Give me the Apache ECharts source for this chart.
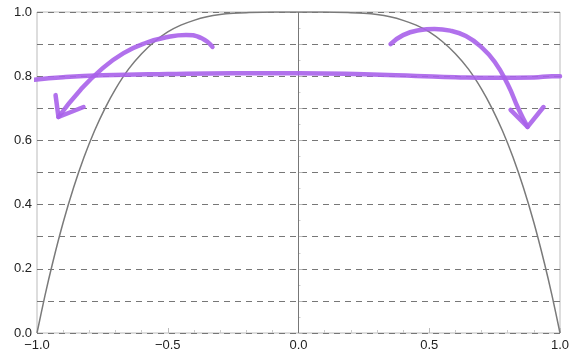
<!DOCTYPE html>
<html>
<head>
<meta charset="utf-8">
<script src="https://cdn.jsdelivr.net/npm/echarts@6/dist/echarts.min.js"></script>
<style>
  html, body { margin: 0; padding: 0; background: #fff; }
  #chart { width: 573px; height: 356px; }
</style>
</head>
<body>
<div id="chart"></div>
<script>
// gray curve
const curveX = [-1, -0.97, -0.94, -0.9, -0.86, -0.82, -0.78, -0.74, -0.7, -0.65, -0.6, -0.55, -0.5, -0.45, -0.4, -0.35, -0.3, -0.25, -0.2, -0.1, 0,
  0.1, 0.2, 0.25, 0.3, 0.35, 0.4, 0.45, 0.5, 0.55, 0.6, 0.65, 0.7, 0.74, 0.78, 0.82, 0.86, 0.9, 0.94, 0.97, 1];
const curveY = [0, 0.115, 0.219, 0.344, 0.453, 0.548, 0.630, 0.700, 0.760, 0.822, 0.870, 0.908, 0.938, 0.959, 0.974, 0.985, 0.992, 0.996, 0.998, 1, 1,
  1, 0.998, 0.996, 0.992, 0.985, 0.974, 0.959, 0.938, 0.908, 0.870, 0.822, 0.760, 0.700, 0.630, 0.548, 0.453, 0.344, 0.219, 0.115, 0];

// purple pen marks
const penLineX = [-1.01, -0.9, -0.75, -0.5, -0.25, 0, 0.25, 0.45, 0.6, 0.75, 0.9, 0.97, 1];
const penLineY = [0.789, 0.797, 0.803, 0.807, 0.809, 0.809, 0.806, 0.801, 0.797, 0.795, 0.796, 0.8, 0.8];

const leftArcX = [-0.329, -0.37, -0.43, -0.5, -0.58, -0.669, -0.757, -0.834, -0.918];
const leftArcY = [0.891, 0.918, 0.928, 0.922, 0.905, 0.872, 0.819, 0.757, 0.673];
const leftHeadX = [-0.929, -0.918, -0.822];
const leftHeadY = [0.741, 0.673, 0.704];

const rightArcX = [0.352, 0.40, 0.46, 0.52, 0.58, 0.64, 0.70, 0.75, 0.80, 0.84, 0.876];
const rightArcY = [0.90, 0.928, 0.943, 0.947, 0.942, 0.925, 0.89, 0.845, 0.775, 0.70, 0.642];
const rightHeadX = [0.811, 0.876, 0.937];
const rightHeadY = [0.695, 0.642, 0.704];

const xTicks = [-1, -0.5, 0, 0.5, 1];
const yTicks = [0, 0.2, 0.4, 0.6, 0.8, 1];

const pen = '#a862ea';
const zip = (xs, ys) => xs.map((x, i) => [x, ys[i]]);

const chart = echarts.init(document.getElementById('chart'));

function penSeries(xs, ys, smooth) {
  return {
    type: 'line',
    data: zip(xs, ys),
    smooth: smooth,
    showSymbol: false,
    clip: false,
    lineStyle: { color: pen, width: 4.5, cap: 'round', join: 'round', opacity: 0.9 },
    z: 5
  };
}

chart.setOption({
  animation: false,
  grid: {
    left: 37, right: 13, top: 12, bottom: 23,
    show: true, borderColor: '#bbb', borderWidth: 1
  },
  xAxis: {
    type: 'value', min: -1, max: 1, interval: 0.5,
    axisLine: { show: false },
    axisTick: { inside: true, length: 5, lineStyle: { color: '#bbb' } },
    minorTick: { show: true, splitNumber: 5, length: 3, lineStyle: { color: '#ccc' } },
    splitLine: { show: false },
    axisLabel: {
      color: '#222', fontSize: 13, fontFamily: 'Liberation Sans', margin: 6,
      formatter: v => xTicks.some(t => Math.abs(t - v) < 1e-9) ? v.toFixed(1).replace('-', '\u2212') : ''
    }
  },
  yAxis: {
    type: 'value', min: 0, max: 1, interval: 0.1,
    axisLine: { show: false },
    axisTick: { inside: true, length: 4, lineStyle: { color: '#bbb' } },
    minorTick: { show: true, splitNumber: 2, length: 2, lineStyle: { color: '#ccc' } },
    splitLine: { show: true, lineStyle: { color: '#777', type: [6, 5], width: 1 } },
    axisLabel: {
      color: '#222', fontSize: 13, fontFamily: 'Liberation Sans', margin: 5,
      formatter: v => yTicks.some(t => Math.abs(t - v) < 1e-9) ? v.toFixed(1) : ''
    }
  },
  series: [
    {
      type: 'line',
      data: zip(curveX, curveY),
      smooth: 0.3,
      showSymbol: false,
      lineStyle: { color: '#7a7a7a', width: 1.5 },
      markLine: {
        silent: true, symbol: 'none', label: { show: false },
        lineStyle: { color: '#777', type: 'solid', width: 1 },
        data: [{ xAxis: 0 }]
      },
      z: 3
    },
    penSeries(penLineX, penLineY, true),
    penSeries(leftArcX, leftArcY, true),
    penSeries(leftHeadX, leftHeadY, false),
    penSeries(rightArcX, rightArcY, true),
    penSeries(rightHeadX, rightHeadY, false)
  ]
});
</script>
</body>
</html>
